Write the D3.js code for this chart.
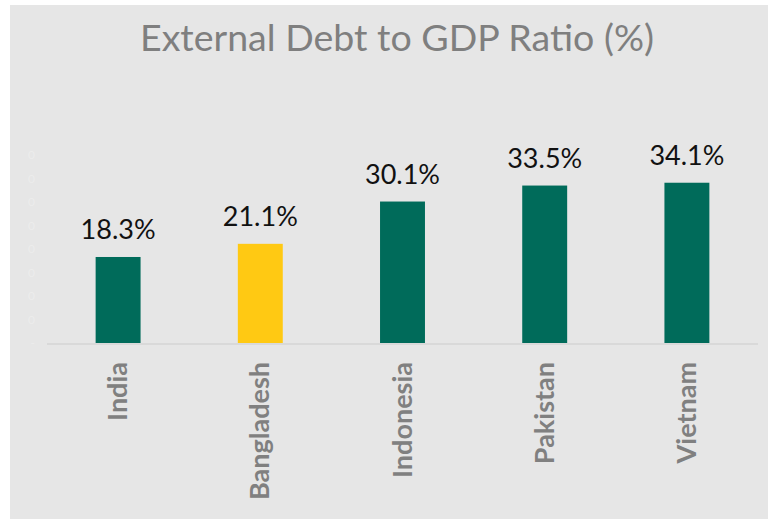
<!DOCTYPE html>
<html>
<head>
<meta charset="utf-8">
<script src="https://cdn.jsdelivr.net/npm/d3@7"></script>
<style>
  body { margin: 0; background: #fff; }
  text { font-family: Lato, "Open Sans", sans-serif; }
</style>
</head>
<body>
<div id="chart"></div>
<script>
// Data
const countries = ["India", "Bangladesh", "Indonesia", "Pakistan", "Vietnam"];
const ratios = [18.3, 21.1, 30.1, 33.5, 34.1];
const highlight = ["Bangladesh"];
const yTicks = [0, 5, 10, 15, 20, 25, 30, 35, 40];

const width = 768,
  height = 519;

const svg = d3
  .select("#chart")
  .append("svg")
  .attr("width", width)
  .attr("height", height);

// chart background
svg
  .append("rect")
  .attr("x", 10)
  .attr("y", 5)
  .attr("width", width - 10)
  .attr("height", height - 5)
  .attr("fill", "#e6e6e6");

// title
svg
  .append("text")
  .attr("x", 397)
  .attr("y", 51)
  .attr("text-anchor", "middle")
  .attr("font-size", "36px")
  .attr("font-weight", 400)
  .attr("fill", "#7f7f7f")
  .attr("textLength", 514)
  .attr("lengthAdjust", "spacingAndGlyphs")
  .text("External Debt to GDP Ratio (%)");

// scales
const x = d3
  .scaleBand()
  .domain(countries)
  .range([47, 758])
  .paddingInner(0.684)
  .paddingOuter(0.342);

const y = d3.scaleLinear().domain([0, 40]).range([343, 155]);

// faint y axis (labels nearly invisible, as in the original)
const yAxis = svg
  .append("g")
  .attr("transform", "translate(38,0)")
  .call(
    d3
      .axisLeft(y)
      .tickValues(yTicks)
      .tickSize(0)
      .tickFormat((d) => (d === 0 ? "-" : "0"))
  );
yAxis.select(".domain").remove();
yAxis
  .selectAll("text")
  .attr("font-family", "Lato, sans-serif")
  .attr("font-size", "12px")
  .attr("fill", "#ececec");

const data = countries.map((c, i) => ({ country: c, value: ratios[i] }));

// bars
svg
  .selectAll(".bar")
  .data(data)
  .enter()
  .append("rect")
  .attr("class", "bar")
  .attr("x", (d) => x(d.country))
  .attr("y", (d) => y(d.value))
  .attr("width", x.bandwidth())
  .attr("height", (d) => y(0) - y(d.value))
  .attr("fill", (d) => (highlight.includes(d.country) ? "#ffc913" : "#006b5a"));

// baseline
svg
  .append("line")
  .attr("x1", 47)
  .attr("x2", 758)
  .attr("y1", y(0) + 1)
  .attr("y2", y(0) + 1)
  .attr("stroke", "#d9d9d9")
  .attr("stroke-width", 2);

// value labels
svg
  .selectAll(".value")
  .data(data)
  .enter()
  .append("text")
  .attr("class", "value")
  .attr("x", (d) => x(d.country) + x.bandwidth() / 2)
  .attr("y", (d) => y(d.value) - 18)
  .attr("text-anchor", "middle")
  .attr("font-size", "27px")
  .attr("fill", "#111")
  .text((d) => d.value.toFixed(1) + "%");

// category labels, rotated
svg
  .selectAll(".cat")
  .data(data)
  .enter()
  .append("text")
  .attr("class", "cat")
  .attr(
    "transform",
    (d) => `translate(${x(d.country) + x.bandwidth() / 2 + 9},362) rotate(-90)`
  )
  .attr("text-anchor", "end")
  .attr("font-size", "27px")
  .attr("font-weight", "bold")
  .attr("fill", "#808080")
  .text((d) => d.country);
</script>
</body>
</html>
